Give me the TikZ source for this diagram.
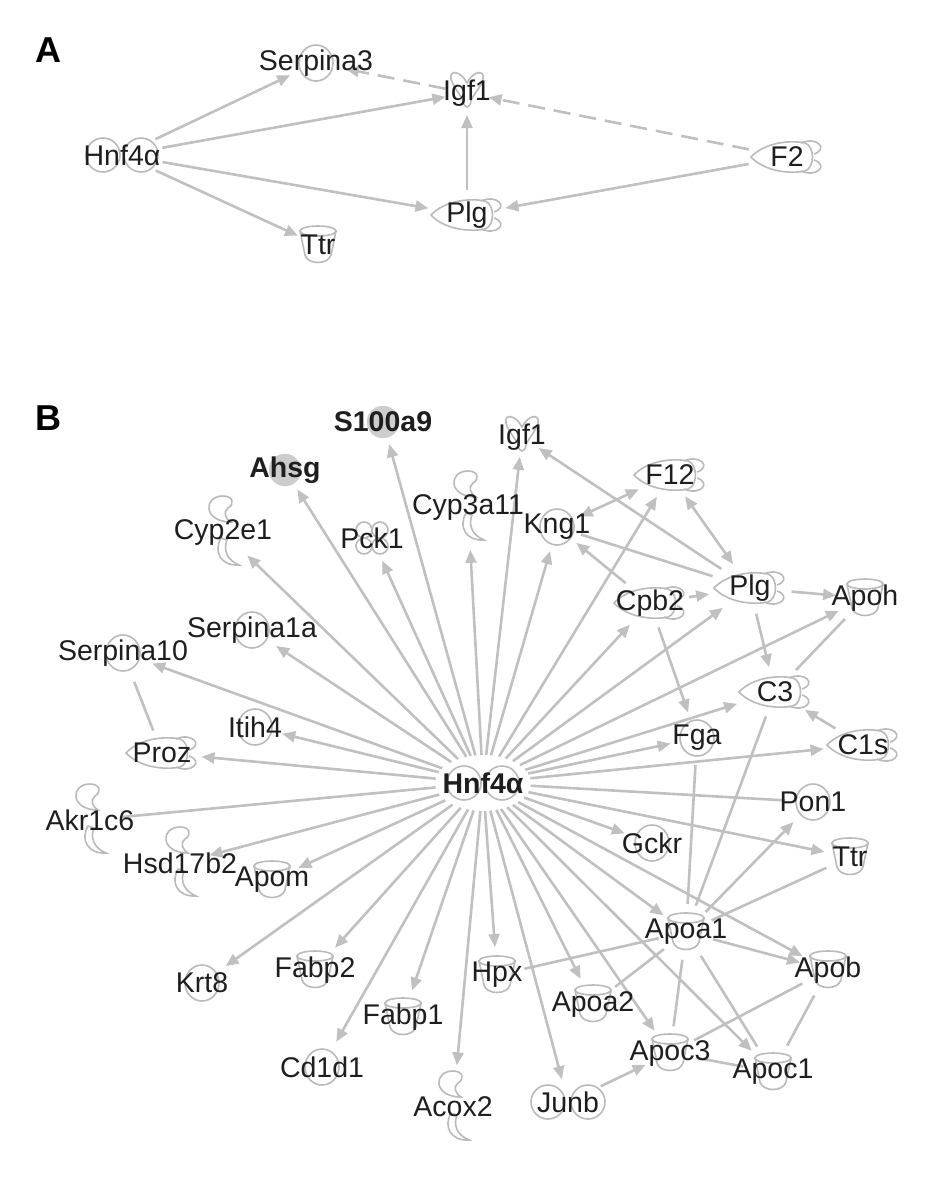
\documentclass[tikz,border=0pt]{standalone}
\usepackage{fontspec}
\setmainfont{Liberation Sans}
\usetikzlibrary{arrows.meta,shapes.geometric}
\definecolor{edgeg}{RGB}{192,192,192}
\definecolor{icong}{RGB}{186,186,186}
\definecolor{txt}{RGB}{30,30,30}
\definecolor{fillg}{RGB}{205,205,205}
\pgfdeclarelayer{edges}
\pgfdeclarelayer{icons}
\pgfsetlayers{edges,icons,main}
\tikzset{
  icon/.style={draw=icong, line width=1.6pt, fill=white},
  iconline/.style={draw=icong, line width=1.6pt},
  bc/.style={circle, minimum size=#1pt, inner sep=0pt, outer sep=0pt},
  bell/.style 2 args={ellipse, minimum width=#1pt, minimum height=#2pt, inner sep=0pt, outer sep=0pt},
  lbl/.style={text=txt, font=\fontsize{28.5}{31}\selectfont, inner sep=0pt},
  panel/.style={text=black, font=\fontsize{36}{40}\selectfont\bfseries, inner sep=0pt},
  edge/.style={draw=edgeg, line width=2.6pt},
  arr/.style={edge, -{Triangle[length=13pt,width=11pt]}},
  barr/.style={edge, {Triangle[length=13pt,width=11pt]}-{Triangle[length=13pt,width=11pt]}},
  dsh/.style={dash pattern=on 17pt off 9pt},
  pics/circ/.style={code={\path[icon] (0,0) ellipse[x radius=17pt, y radius=18pt];}},
  pics/filled/.style={code={\path[draw=fillg, fill=fillg] (0,0) circle[radius=16pt];}},
  pics/cup/.style={code={
    \path[icon] (-18,-14) -- (-13,10) .. controls (-10,20) and (10,20) .. (13,10) -- (18,-14) -- cycle;
    \path[icon] (0,-14) ellipse[x radius=18pt, y radius=5pt];}},
  pics/pept/.style={code={
    \path[icon] (-36,0) .. controls (-22,-15) and (4,-17) .. (18,-14) .. controls (28,-11) and (28,11) .. (18,14) .. controls (4,17) and (-22,15) .. (-36,0) -- cycle;
    \path[iconline] (14,-14) .. controls (30,-21) and (42,-8) .. (27,-3);
    \path[iconline] (14,14) .. controls (30,21) and (42,8) .. (27,3);}},
  pics/growth/.style={code={
    \path[icon] (0,-10) .. controls (-6,-22) and (-18,-24) .. (-16,-14) .. controls (-14,-6) and (-6,2) .. (-4,8) .. controls (-3,16) and (3,16) .. (4,8) .. controls (6,2) and (14,-6) .. (16,-14) .. controls (18,-24) and (6,-22) .. (0,-10) -- cycle;}},
  pics/enzyme/.style={code={
    \path[icon] (8,-10) .. controls (-20,-10) and (-20,-36) .. (0,-36) .. controls (10,-36) and (12,-28) .. (5,-24) .. controls (0,-20) and (2,-14) .. (8,-10) -- cycle;
    \path[icon] (-2,6) .. controls (-10,20) and (-2,34) .. (16,33) .. controls (4,28) and (0,18) .. (4,8) -- cycle;}},
  pics/kinase/.style={code={
    \foreach \dx/\dy in {-8/-8,8/-8,-8/8,8/8} {\path[icon] (\dx,\dy) circle[radius=8pt];}}},
  pics/nucl/.style={code={
    \path[icon] (-19,0) circle[radius=17pt];
    \path[icon] (19,0) circle[radius=17pt];}},
  pics/junb/.style={code={
    \path[icon] (-20,0) circle[radius=17pt];
    \path[icon] (20,0) circle[radius=17pt];}},
}
\newcommand\mkg[5]{%
  \node[#3] (#1) at (#2) {};
  \begin{pgfonlayer}{icons}\pic at (#1) {#4};\end{pgfonlayer}
  \node[lbl] (#1t) at (#1) {#5};}
\begin{document}
\begin{tikzpicture}[x=1pt,y=-1pt]
\path[use as bounding box] (0,0) rectangle (945,1187);
% ---------- Panel A ----------
\node[panel] (labA) at (48,50) {A};
\mkg{aH}{122,155}{bell={84}{52}}{nucl}{Hnf4α}
\mkg{aS}{316,63}{bell={62}{44}}{circ}{Serpina3}
\mkg{aI}{467,93}{bc=44}{growth}{Igf1}
\mkg{aF}{787,157}{bell={80}{50}}{pept}{F2}
\mkg{aP}{467,215}{bell={80}{50}}{pept}{Plg}
\mkg{aT}{318,245}{bc=44}{cup}{Ttr}
\begin{pgfonlayer}{edges}
\draw[arr] (aH) -- (aS);
\draw[arr] (aH) -- (aI);
\draw[arr] (aH) -- (aP);
\draw[arr] (aH) -- (aT);
\draw[arr,dsh] (aI) -- (aS);
\draw[arr,dsh] (aF) -- (aI);
\draw[arr] (aF) -- (aP);
\draw[arr] (aP) -- (aI);
\end{pgfonlayer}
% ---------- Panel B ----------
\node[panel] (labB) at (48,418) {B};
\mkg{hb}{483,783}{bell={96}{56}}{nucl}{\bfseries Hnf4α}
\mkg{s100}{383,422}{bc=46}{filled}{\bfseries S100a9}
\mkg{ahsg}{285,470}{bc=46}{filled}{\bfseries Ahsg}
\mkg{igf}{522,437}{bc=40}{growth}{Igf1}
\mkg{cyp3}{468,507}{bell={60}{86}}{enzyme}{Cyp3a11}
\mkg{f12}{670,475}{bell={80}{46}}{pept}{F12}
\mkg{cyp2}{223,532}{bell={60}{80}}{enzyme}{Cyp2e1}
\mkg{pck}{372,538}{bc=50}{kinase}{Pck1}
\mkg{kng}{557,527}{bc=50}{circ}{Kng1}
\mkg{plg}{750,588}{bell={84}{52}}{pept}{Plg}
\mkg{cpb2}{650,603}{bell={80}{50}}{pept}{Cpb2}
\mkg{apoh}{865,598}{bc=58}{cup}{Apoh}
\mkg{serpa}{252,630}{bc=58}{circ}{Serpina1a}
\mkg{serpb}{123,653}{bc=62}{circ}{Serpina10}
\mkg{cthree}{775,692}{bell={86}{50}}{pept}{C3}
\mkg{itih}{255,727}{bc=56}{circ}{Itih4}
\mkg{fga}{697,738}{bc=54}{circ}{Fga}
\mkg{proz}{162,753}{bell={80}{46}}{pept}{Proz}
\mkg{cones}{863,745}{bell={80}{46}}{pept}{C1s}
\mkg{akr}{90,820}{bell={60}{80}}{enzyme}{Akr1c6}
\mkg{pon}{813,802}{bc=56}{circ}{Pon1}
\mkg{hsd}{180,863}{bell={60}{80}}{enzyme}{Hsd17b2}
\mkg{gckr}{652,843}{bc=58}{circ}{Gckr}
\mkg{apom}{272,880}{bc=58}{cup}{Apom}
\mkg{ttr}{850,857}{bc=52}{cup}{Ttr}
\mkg{apoaa}{686,932}{bc=56}{cup}{Apoa1}
\mkg{krt}{202,983}{bc=58}{circ}{Krt8}
\mkg{fabpb}{315,970}{bc=60}{cup}{Fabp2}
\mkg{hpx}{497,975}{bc=56}{cup}{Hpx}
\mkg{apob}{828,970}{bc=58}{cup}{Apob}
\mkg{fabpa}{403,1017}{bc=56}{cup}{Fabp1}
\mkg{apoab}{593,1004}{bc=56}{cup}{Apoa2}
\mkg{cdd}{322,1067}{bc=58}{circ}{Cd1d1}
\mkg{apocc}{670,1053}{bc=54}{cup}{Apoc3}
\mkg{apoca}{773,1072}{bc=60}{cup}{Apoc1}
\mkg{acox}{453,1107}{bell={60}{84}}{enzyme}{Acox2}
\mkg{junb}{568,1102}{bell={90}{46}}{junb}{Junb}
\begin{pgfonlayer}{edges}
\foreach \t in {s100,ahsg,cyp2,pck,cyp3,igf,kng,f12,cpb2,plg,apoh,cthree,fga,cones,serpa,serpb,itih,proz,hsd,apom,krt,fabpb,cdd,fabpa,acox,hpx,junb,apoab,apocc,apoca,apoaa,apob,ttr,gckr}
  {\draw[arr] (hb) -- (\t);}
\draw[edge] (hb) -- (akr);
\draw[edge] (hb) -- (pon);
\draw[edge] (serpb) -- (proz);
\draw[arr] (plg) -- (igf);
\draw[barr] (f12) -- (plg);
\draw[barr] (kng) -- (f12);
\draw[edge] (kng) -- (plg);
\draw[arr] (cpb2) -- (kng);
\draw[arr] (cpb2) -- (plg);
\draw[arr] (cpb2) -- (fga);
\draw[arr] (plg) -- (apoh);
\draw[arr] (plg) -- (cthree);
\draw[edge] (cthree) -- (apoh);
\draw[arr] (cones) -- (cthree);
\draw[edge] (cthree) -- (apoaa);
\draw[edge] (fga) -- (apoaa);
\draw[arr] (apoaa) -- (pon);
\draw[edge] (ttr) -- (apoaa);
\draw[arr] (apoaa) -- (apob);
\draw[edge] (apoaa) -- (hpx);
\draw[edge] (apoaa) -- (apoab);
\draw[edge] (apoaa) -- (apocc);
\draw[edge] (apoaa) -- (apoca);
\draw[edge] (apob) -- (apocc);
\draw[edge] (apob) -- (apoca);
\draw[edge] (apocc) -- (apoca);
\draw[arr] (junb) -- (apocc);
\end{pgfonlayer}
\end{tikzpicture}
\end{document}
